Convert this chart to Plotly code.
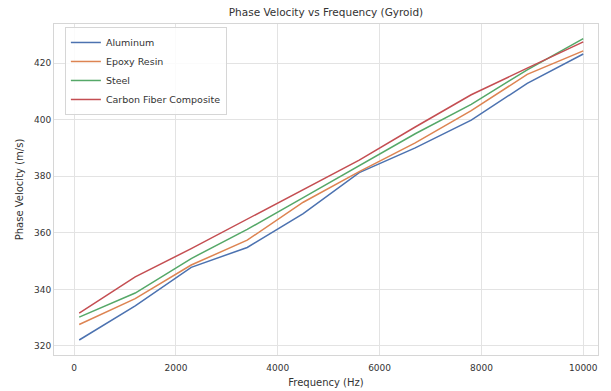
import plotly.graph_objects as go

frequency = [100, 1200, 2300, 3400, 4500, 5600, 6700, 7800, 8900, 10000]
aluminum = [322.1, 334.2, 347.8, 354.8, 366.8, 381.3, 390.0, 399.8, 412.8, 423.2]
epoxy_resin = [327.6, 336.7, 348.6, 357.4, 370.8, 381.6, 391.8, 403.2, 416.0, 424.3]
steel = [330.2, 338.7, 350.9, 361.2, 372.4, 383.8, 395.0, 405.4, 417.6, 428.6]
carbon_fiber = [331.6, 344.4, 354.4, 364.9, 375.3, 385.7, 397.4, 408.8, 418.2, 427.5]

series_names = ["Aluminum", "Epoxy Resin", "Steel", "Carbon Fiber Composite"]
series_values = [aluminum, epoxy_resin, steel, carbon_fiber]
colors = ["#4C72B0", "#DD8452", "#55A868", "#C44E52"]

x_ticks = [0, 2000, 4000, 6000, 8000, 10000]
x_tick_labels = ["0", "2000", "4000", "6000", "8000", "10000"]
y_ticks = [320, 340, 360, 380, 400, 420]
y_tick_labels = ["320", "340", "360", "380", "400", "420"]

FONT = "DejaVu Sans"
TXT = "#333333"

fig = go.Figure()
for name, vals, col in zip(series_names, series_values, colors):
    fig.add_trace(go.Scatter(x=frequency, y=vals, mode="lines", name=name,
                             line=dict(color=col, width=1.5)))

axis_common = dict(showgrid=True, gridcolor="#e3e3e3", gridwidth=1, automargin=False,
                   zeroline=False, showline=True, linecolor="#d6d6d6", linewidth=1,
                   mirror=True, ticks="", tickfont=dict(family=FONT, size=9, color=TXT))

fig.update_layout(
    width=611, height=391,
    margin=dict(l=54, r=13, t=24, b=36),
    paper_bgcolor="white", plot_bgcolor="white",
    title=dict(text="Phase Velocity vs Frequency (Gyroid)", x=0.5 + (54 - 13) / 2 / 611,
               xanchor="center", y=1 - 12 / 391, yanchor="middle",
               font=dict(family=FONT, size=10.5, color=TXT)),
    xaxis=dict(range=[-395, 10290], tickvals=x_ticks, ticktext=x_tick_labels,
               ticklabelstandoff=4,
               title=dict(text="Frequency (Hz)", font=dict(family=FONT, size=10, color=TXT), standoff=7),
               **axis_common),
    yaxis=dict(range=[316.8, 433.8], tickvals=y_ticks, ticktext=y_tick_labels,
               title=dict(text="Phase Velocity (m/s)", font=dict(family=FONT, size=10, color=TXT), standoff=8),
               **axis_common),
    legend=dict(x=0.02, y=0.991, xanchor="left", yanchor="top", itemwidth=30,
                bgcolor="rgba(255,255,255,0.85)", bordercolor="#d6d6d6", borderwidth=1,
                font=dict(family=FONT, size=9.5, color=TXT), tracegroupgap=0),
    showlegend=True,
)

fig.write_html("out.html", config={"displayModeBar": False},
               post_script="document.body.style.margin='0';")
